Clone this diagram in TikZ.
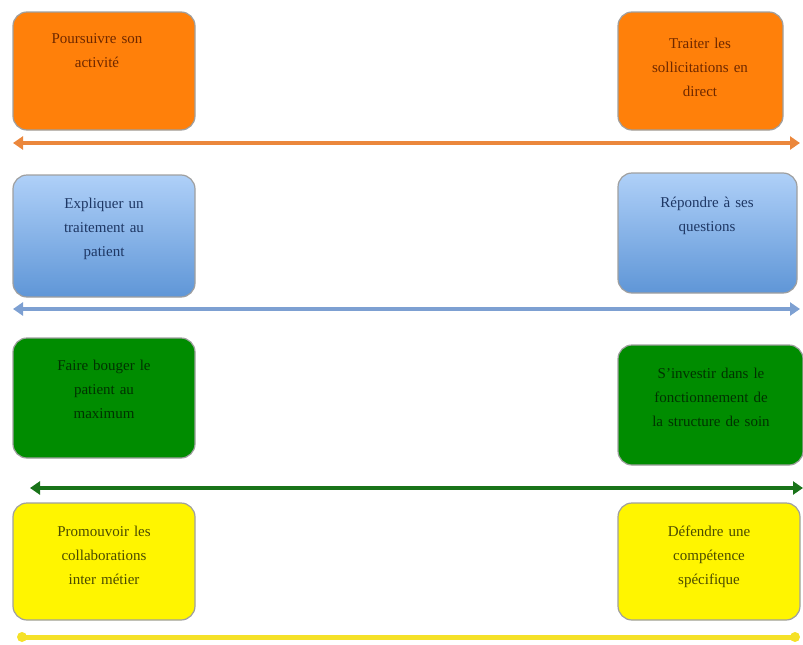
\documentclass[tikz,border=0pt]{standalone}
\usepackage{fontspec}
\setmainfont{Liberation Serif}
\usetikzlibrary{arrows.meta}
\definecolor{orfill}{RGB}{255,128,10}
\definecolor{ortext}{RGB}{110,40,0}
\definecolor{orline}{RGB}{235,135,60}
\definecolor{blutop}{RGB}{175,208,248}
\definecolor{blubot}{RGB}{95,150,215}
\definecolor{blutext}{RGB}{30,55,100}
\definecolor{bluline}{RGB}{125,160,210}
\definecolor{grfill}{RGB}{0,140,0}
\definecolor{grtext}{RGB}{0,50,0}
\definecolor{grline}{RGB}{25,115,25}
\definecolor{yefill}{RGB}{255,245,0}
\definecolor{yetext}{RGB}{75,75,0}
\definecolor{yeline}{RGB}{245,225,40}
\tikzset{
  x=1pt,y=-1pt,
  box/.style={rounded corners=14pt, draw=gray!75, line width=1.2pt},
  lbl/.style={anchor=north, align=center, text width=170pt, font=\fontsize{15}{24}\selectfont, inner sep=0pt},
  harrow/.style={line width=4.5pt, {Triangle[length=10pt,width=13pt]}-{Triangle[length=10pt,width=13pt]}},
}
\begin{document}
\begin{tikzpicture}
\useasboundingbox (0,0) rectangle (803,645);
% orange
\draw[box, fill=orfill] (13,12) rectangle (195,130);
\draw[box, fill=orfill] (618,12) rectangle (783,130);
\node[lbl, text=ortext] (o1) at (97,33) {Poursuivre son\\activité};
\node[lbl, text=ortext] (o2) at (700,38) {Traiter les\\sollicitations en\\direct};
\coordinate (oa) at (13,143); \coordinate (ob) at (800,143);
\draw[harrow, orline] (oa) -- (ob);
% blue
\draw[box, top color=blutop, bottom color=blubot] (13,175) rectangle (195,297);
\draw[box, top color=blutop, bottom color=blubot] (618,173) rectangle (797,293);
\node[lbl, text=blutext] (b1) at (104,198) {Expliquer un\\traitement au\\patient};
\node[lbl, text=blutext] (b2) at (707,197) {Répondre à ses\\questions};
\coordinate (ba) at (13,309); \coordinate (bb) at (800,309);
\draw[harrow, bluline] (ba) -- (bb);
% green
\draw[box, fill=grfill] (13,338) rectangle (195,458);
\draw[box, fill=grfill] (618,345) rectangle (803,465);
\node[lbl, text=grtext] (g1) at (104,360) {Faire bouger le\\patient au\\maximum};
\node[lbl, text=grtext, text width=185pt] (g2) at (711,368) {S'investir dans le\\fonctionnement de\\la structure de soin};
\coordinate (ga) at (30,488); \coordinate (gb) at (803,488);
\draw[harrow, grline] (ga) -- (gb);
% yellow
\draw[box, fill=yefill] (13,503) rectangle (195,620);
\draw[box, fill=yefill] (618,503) rectangle (800,620);
\node[lbl, text=yetext] (y1) at (104,526) {Promouvoir les\\collaborations\\inter métier};
\node[lbl, text=yetext] (y2) at (709,526) {Défendre une\\compétence\\spécifique};
\coordinate (ya) at (22,637); \coordinate (yb) at (795,637);
\draw[yeline, line width=5pt, line cap=round] (ya) -- (yb);
\fill[yeline] (ya) circle (5pt) (yb) circle (5pt);
\end{tikzpicture}
\end{document}
